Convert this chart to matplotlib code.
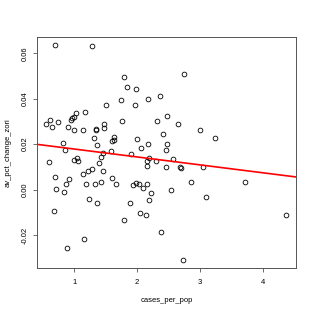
import numpy as np
import matplotlib
matplotlib.use("Agg")
import matplotlib.pyplot as plt

plt.rcParams["font.family"] = ["Liberation Sans", "DejaVu Sans"]

# values
cases_per_pop = [
    0.703, 1.275, 2.751, 1.794, 1.837, 1.989, 2.360, 2.175, 1.741, 1.511,
    1.971, 2.476, 2.313, 2.651, 3.000, 2.413, 1.995, 2.171, 2.060, 2.481,
    2.460, 3.238, 1.170, 1.027, 0.992, 0.968, 0.944, 0.624, 0.738, 0.560,
    0.654, 0.900, 1.005, 1.143, 1.344, 1.352, 1.471, 1.473, 1.754, 1.321,
    1.640, 1.635, 1.598, 1.362, 0.830, 0.852, 1.587, 1.460, 1.433, 1.052,
    0.995, 1.056, 0.603, 1.397, 1.286, 1.225, 1.456, 1.143, 0.698, 0.925,
    1.595, 0.868, 1.190, 1.333, 1.424, 1.659, 0.714, 0.841, 1.233, 1.360,
    0.683, 1.783, 1.154, 0.889, 1.897, 2.195, 2.148, 2.302, 2.568, 2.151,
    2.456, 2.687, 2.695, 3.040, 1.937, 1.984, 2.032, 2.090, 2.163, 2.217,
    2.540, 2.857, 3.090, 1.892, 2.187, 2.052, 2.143, 2.373, 2.725, 3.711,
    4.370,
]
av_pct_change_zori = [
    0.0635, 0.0632, 0.0507, 0.0498, 0.0451, 0.0442, 0.0413, 0.0398, 0.0393, 0.0374,
    0.0373, 0.0325, 0.0301, 0.0288, 0.0262, 0.0244, 0.0221, 0.0200, 0.0185, 0.0200,
    0.0173, 0.0225, 0.0341, 0.0336, 0.0320, 0.0317, 0.0308, 0.0308, 0.0297, 0.0290,
    0.0277, 0.0277, 0.0262, 0.0263, 0.0268, 0.0261, 0.0288, 0.0273, 0.0302, 0.0229,
    0.0232, 0.0217, 0.0212, 0.0196, 0.0205, 0.0175, 0.0171, 0.0161, 0.0143, 0.0140,
    0.0129, 0.0128, 0.0121, 0.0116, 0.0092, 0.0084, 0.0080, 0.0069, 0.0054, 0.0048,
    0.0051, 0.0026, 0.0025, 0.0025, 0.0032, 0.0025, 0.0001, -0.0012, -0.0043, -0.0060,
    -0.0095, -0.0132, -0.0219, -0.0257, 0.0158, 0.0138, 0.0127, 0.0124, 0.0134, 0.0102,
    0.0101, 0.0098, 0.0097, 0.0101, 0.0022, 0.0031, 0.0023, 0.0009, 0.0023, -0.0013,
    -0.0004, 0.0034, -0.0032, -0.0061, -0.0045, -0.0103, -0.0113, -0.0187, -0.0308, 0.0035,
    -0.0110,
]
x_ticks = [1, 2, 3, 4]
y_ticks = [-0.02, 0.00, 0.02, 0.04, 0.06]
y_ticklabels = ["-0.02", "0.00", "0.02", "0.04", "0.06"]

x = np.array(cases_per_pop)
y = np.array(av_pct_change_zori)

fig = plt.figure(figsize=(3.15, 3.15), dpi=100)
ax = fig.add_axes([0.117, 0.149, 0.823, 0.734])

ax.plot(x, y, "o", mfc="none", mec="black", ms=3.4, mew=0.6)

# R-style limits: data range padded by 4%
xr = x.max() - x.min()
yr = y.max() - y.min()
ax.set_xlim(x.min() - 0.04 * xr, x.max() + 0.04 * xr)
ax.set_ylim(y.min() - 0.04 * yr, y.max() + 0.04 * yr)

# least squares line, like abline(lm(y ~ x))
slope, intercept = np.polyfit(x, y, 1)
ax.axline((0, intercept), slope=slope, color="red", lw=1.2)

ax.set_xticks(x_ticks)
ax.set_yticks(y_ticks)
ax.set_yticklabels(y_ticklabels, rotation=90, va="center")
ax.tick_params(direction="out", length=3, width=0.6, labelsize=5.5, colors="#555555",
               labelcolor="black")
ax.tick_params(axis="x", pad=5)
ax.tick_params(axis="y", pad=3)
for s in ax.spines.values():
    s.set_linewidth(0.7)
    s.set_color("#555555")

ax.set_xlabel("cases_per_pop", fontsize=5.5, labelpad=8)
ax.set_ylabel("av_pct_change_zori", fontsize=5.5, labelpad=7)

fig.savefig("out.png", dpi=100)
